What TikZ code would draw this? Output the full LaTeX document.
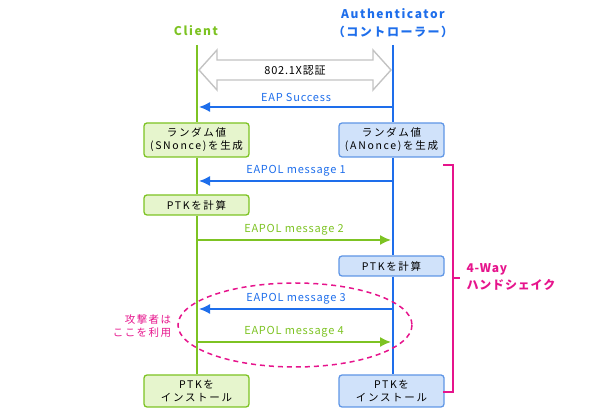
\documentclass[tikz,border=0pt]{standalone}
\usepackage{fontspec}
\setmainfont{Noto Sans CJK JP}
\newfontfamily\lblfont{Noto Sans CJK JP}[LetterSpace=7]
\newfontfamily\boxfont{Noto Sans CJK JP}[LetterSpace=16]
\newfontfamily\headfont{Noto Sans CJK JP}[LetterSpace=13]
\newfontfamily\atkfont{Noto Sans CJK JP}[LetterSpace=14]
\usetikzlibrary{arrows.meta}

\definecolor{grn}{RGB}{125,195,35}
\definecolor{grnfill}{RGB}{230,245,205}
\definecolor{blu}{RGB}{30,110,235}
\definecolor{blufill}{RGB}{208,226,250}
\definecolor{bluedge}{RGB}{95,150,230}
\definecolor{mag}{RGB}{230,20,140}
\definecolor{gry}{RGB}{195,195,195}

\tikzset{
  cbox/.style={draw=grn, fill=grnfill, rounded corners=3pt, line width=1.3pt,
    minimum width=105pt, align=center, inner sep=1pt,
    font=\boxfont\fontsize{10.5}{13}\selectfont},
  abox/.style={cbox, draw=bluedge, fill=blufill},
  cline/.style={grn, line width=1.6pt},
  aline/.style={blu, line width=1.6pt},
  msg/.style={-{Latex[length=11pt,width=10pt]}, line width=1.5pt},
  lbl/.style={font=\lblfont\fontsize{11}{13}\selectfont},
  head/.style={font=\headfont\fontsize{12}{14}\selectfont\bfseries}
}

\begin{document}
\begin{tikzpicture}[x=1pt,y=-1pt]
\useasboundingbox (0,0) rectangle (590,419);

% heads of the lifelines
\node [grn, head] (client) at (196,31) {Client};
\node [blu, head] (auth) at (393,14) {Authenticator};
\node [blu, head] (ctrl) at (393,32) {（コントローラー）};

% boxes
\node [cbox, minimum height=34pt] (crand) at (196.5,140) {ランダム値\\(SNonce)を生成};
\node [abox, minimum height=34pt] (arand) at (391.5,140) {ランダム値\\(ANonce)を生成};
\node [cbox, minimum height=20pt] (cptk) at (196.5,205) {PTKを計算};
\node [abox, minimum height=20pt] (aptk) at (391.5,266) {PTKを計算};
\node [cbox, minimum height=32pt] (cinst) at (196.5,391) {PTKを\\インストール};
\node [abox, minimum height=32pt] (ainst) at (391.5,391) {PTKを\\インストール};

% lifelines
\coordinate (ctop) at (197,45);
\coordinate (atop) at (393,45);
\draw [cline] (ctop) -- (crand.north -| ctop);
\draw [cline] (crand.south -| ctop) -- (cptk.north -| ctop);
\draw [cline] (cptk.south -| ctop) -- (cinst.north -| ctop);
\draw [aline] (atop) -- (arand.north -| atop);
\draw [aline] (arand.south -| atop) -- (aptk.north -| atop);
\draw [aline] (aptk.south -| atop) -- (ainst.north -| atop);

% 802.1X
\draw [gry, fill=white, line width=1.4pt]
(199,70)--(217,50)--(217,60)--(373,60)--(373,50)--(391,70)--(373,90)--(373,80)--(217,80)--(217,90)--cycle;
\node [lbl] (dot1x) at (295,71) {802.1X認証};

% messages
\coordinate (c1) at (199,107);
\coordinate (a1) at (393,107);
\draw [msg, blu] (a1) -- (c1) node [midway, above=1pt, lbl] (eap) {EAP Success};
\coordinate (c2) at (199,181);
\coordinate (a2) at (393,181);
\draw [msg, blu] (a2) -- (c2) node [midway, above=1pt, lbl] (m1) {EAPOL message 1};
\coordinate (c3) at (197,240);
\coordinate (a3) at (391,240);
\draw [msg, grn] (c3) -- (a3) node [midway, above=1pt, lbl] (m2) {EAPOL message 2};
\coordinate (c4) at (199,309);
\coordinate (a4) at (393,309);
\draw [msg, blu] (a4) -- (c4) node [midway, above=1pt, lbl] (m3) {EAPOL message 3};
\coordinate (c5) at (197,342);
\coordinate (a5) at (391,342);
\draw [msg, grn] (c5) -- (a5) node [midway, above=1pt, lbl] (m4) {EAPOL message 4};

% attacker
\draw [mag, dash pattern=on 5pt off 4pt, line width=1.5pt] (295,325) ellipse [x radius=117, y radius=42];
\node [mag, align=right, font=\atkfont\fontsize{10.5}{13}\selectfont] (atk) at (142,326) {攻撃者は\\ここを利用};

% 4-way handshake
\draw [mag, line width=1.6pt] (443,165) -- (453,165) -- (453,392) -- (443,392);
\draw [mag, line width=1.6pt] (453,278) -- (460,278);
\node [mag, anchor=west, align=left, font=\lblfont\fontsize{12}{17}\selectfont\bfseries] (way) at (463,277) {4-Way\\ハンドシェイク};
\end{tikzpicture}
\end{document}
